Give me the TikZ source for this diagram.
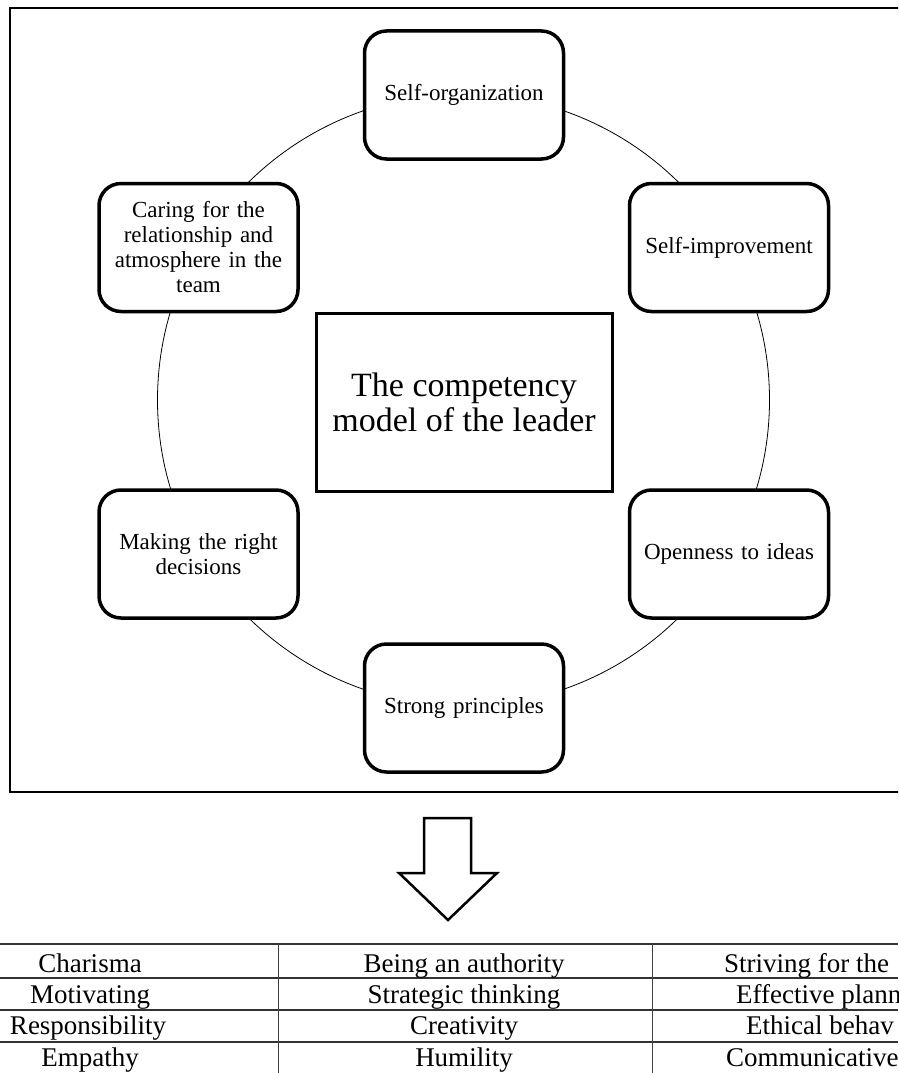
\documentclass[tikz,border=0pt]{standalone}
\usepackage{fontspec}
\setmainfont{Liberation Serif}
\begin{document}
\begin{tikzpicture}[x=1pt,y=-1pt,
  comp/.style={draw,line width=3.5pt,rounded corners=22pt,minimum width=199pt,minimum height=128pt,fill=white,align=center,font=\fontsize{23}{25}\selectfont,text width=190pt,inner sep=2pt},
  center/.style={draw,line width=3pt,minimum width=296pt,minimum height=178pt,fill=white,align=center,font=\fontsize{34}{35}\selectfont},
  tabline/.style={draw=black!80,line width=2.5pt},
  vline/.style={draw=black!75,line width=1pt},
  cell/.style={font=\fontsize{27}{30}\selectfont,inner sep=0pt,anchor=base}]
\useasboundingbox (0,0) rectangle (898,1073);
\clip (0,0) rectangle (898,1073);
% outer frame
\draw[line width=2pt] (910,8) -- (10,8) -- (10,792) -- (910,792);
% circle
\node[draw,circle,line width=0.8pt,minimum size=612pt,inner sep=0pt] (ring) at (463.5,400) {};
% nodes
\node[comp] (so) at (464,95) {Self-organization};
\node[comp] (si) at (729,247.5) {Self-improvement};
\node[comp] (oi) at (729,554) {Openness to ideas};
\node[comp] (sp) at (464,708) {Strong principles};
\node[comp] (md) at (198.5,554) {Making the right\\decisions};
\node[comp] (cr) at (198.5,247.5) {Caring for the\\relationship and\\atmosphere in the\\team};
\node[center] (cm) at (464,402) {The competency\\model of the leader};
% arrow
\draw[line width=2.5pt,line join=miter,fill=white] (424,818) -- (471,818) -- (471,873) -- (497,873) -- (448,920) -- (399,873) -- (424,873) -- cycle;
% table
\draw[tabline] (0,944) -- (898,944);
\draw[tabline] (0,978) -- (898,978);
\draw[tabline] (0,1010) -- (898,1010);
\draw[tabline] (0,1042) -- (898,1042);
\draw[vline] (278,944) -- (278,1073);
\draw[vline] (652,944) -- (652,1073);
\node[cell] (c11) at (90,972) {Charisma};
\node[cell] (c21) at (90,1003) {Motivating};
\node[cell] (c31) at (88,1034) {Responsibility};
\node[cell] (c41) at (90,1066) {Empathy};
\node[cell] (c12) at (464,972) {Being an authority};
\node[cell] (c22) at (464,1003) {Strategic thinking};
\node[cell] (c32) at (464,1034) {Creativity};
\node[cell] (c42) at (464,1066) {Humility};
\node[cell,anchor=base west] (c13) at (724,972) {Striving for the};
\node[cell,anchor=base west] (c23) at (736,1003) {Effective plann};
\node[cell,anchor=base west] (c33) at (746,1034) {Ethical behav};
\node[cell,anchor=base west] (c43) at (726,1066) {Communicative};
\end{tikzpicture}
\end{document}
